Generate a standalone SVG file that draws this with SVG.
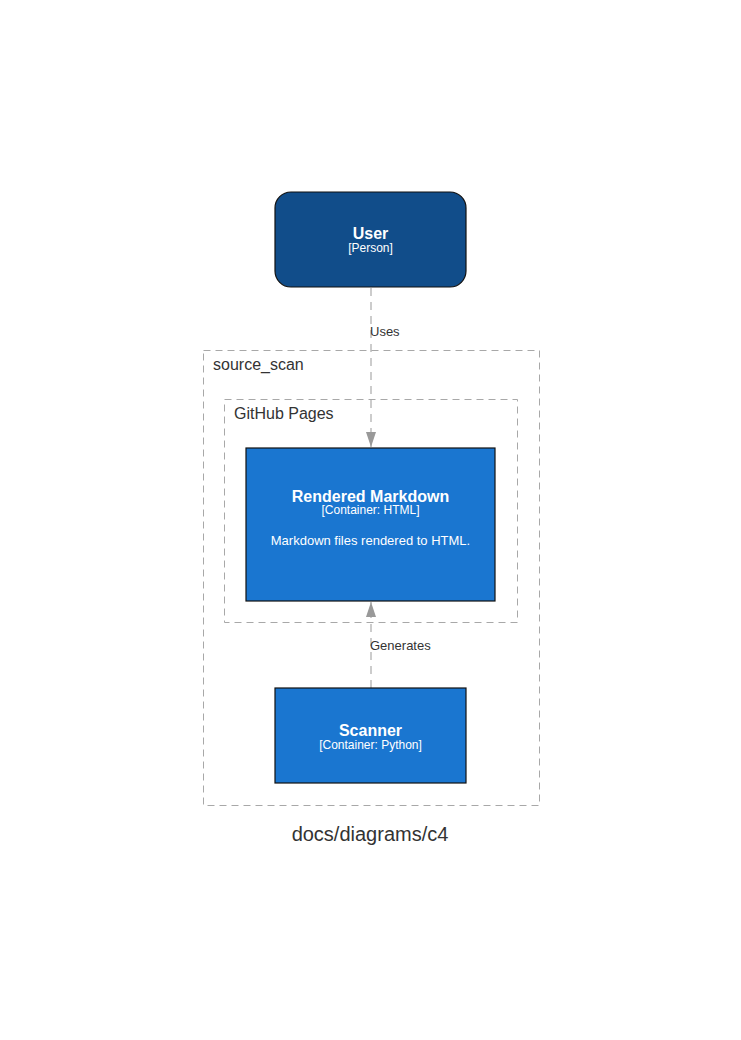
<svg xmlns="http://www.w3.org/2000/svg" width="741" height="1040" viewBox="0 0 741 1040">
<style>
text{font-family:"Liberation Sans",Arial,sans-serif}
.bnd{fill:none;stroke:#a8a8a8;stroke-width:1;stroke-dasharray:7,5}
.blabel{font-size:16px;fill:#333333}
.name{font-size:16px;font-weight:bold;fill:#ffffff;text-anchor:middle}
.type{font-size:12px;fill:#ffffff;text-anchor:middle}
.desc{font-size:13px;fill:#ffffff;text-anchor:middle}
.edge{fill:none;stroke:#999999;stroke-width:1;stroke-dasharray:8,6}
.elabel{font-size:13px;fill:#333333}
.box{fill:#1a76d0;stroke:#111111;stroke-width:1.2}
</style>
<defs>
<marker id="arr" viewBox="0 0 15 10" refX="15" refY="5" markerWidth="15" markerHeight="10" markerUnits="userSpaceOnUse" orient="auto">
<path d="M0,0 L15,5 L0,10 z" fill="#999999"/>
</marker>
</defs>
<rect width="741" height="1040" fill="#ffffff"/>
<g id="boundary-source_scan">
<rect class="bnd" x="203.5" y="350.5" width="336" height="455"/>
<text class="blabel" x="213" y="370">source_scan</text>
</g>
<g id="boundary-github-pages">
<rect class="bnd" x="224.5" y="399.5" width="293" height="223"/>
<text class="blabel" x="234" y="419">GitHub Pages</text>
</g>
<g id="connectors">
<line class="edge" x1="371" y1="288" x2="371" y2="447" marker-end="url(#arr)"/>
<text class="elabel" x="370" y="336">Uses</text>
<line class="edge" x1="371" y1="688" x2="371" y2="602" marker-end="url(#arr)"/>
<text class="elabel" x="370" y="650">Generates</text>
</g>
<g id="node-user">
<rect x="275" y="192" width="191" height="95" rx="16" ry="16" fill="#114d8a" stroke="#111111" stroke-width="1.2"/>
<text class="name" x="370.5" y="239">User</text>
<text class="type" x="370.5" y="252">[Person]</text>
</g>
<g id="node-rendered-markdown">
<rect class="box" x="246" y="448" width="249" height="153"/>
<text class="name" x="370.5" y="502">Rendered Markdown</text>
<text class="type" x="370.5" y="514">[Container: HTML]</text>
<text class="desc" x="370.5" y="545">Markdown files rendered to HTML.</text>
</g>
<g id="node-scanner">
<rect class="box" x="275" y="688" width="191" height="95"/>
<text class="name" x="370.5" y="736">Scanner</text>
<text class="type" x="370.5" y="749">[Container: Python]</text>
</g>
<text x="370" y="841" font-size="20" fill="#333333" text-anchor="middle">docs/diagrams/c4</text>
</svg>
